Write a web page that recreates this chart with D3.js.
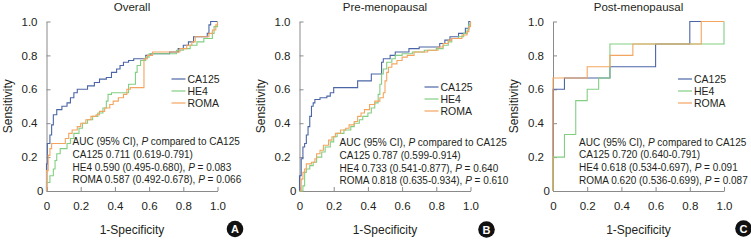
<!DOCTYPE html>
<html><head><meta charset="utf-8">
<script src="https://cdn.jsdelivr.net/npm/d3@7"></script>
<style>body{margin:0;background:#fff}svg{display:block}</style>
</head><body><svg id="c" width="751" height="240"></svg>
<script>
// ---------- data ----------
const panelTitles = ["Overall", "Pre-menopausal", "Post-menopausal"];
const panelLetters = ["A", "B", "C"];
const seriesNames = ["CA125", "HE4", "ROMA"];
const tickValues = [0, 0.2, 0.4, 0.6, 0.8, 1.0];
const tickLabels = ["0", "0.2", "0.4", "0.6", "0.8", "1.0"];

// ROC vertices [1-specificity, sensitivity]
const overallCA125 = [[0,0],[0,0.16],[0.005,0.16],[0.005,0.28],[0.02,0.28],[0.02,0.33],[0.03,0.33],[0.03,0.39],[0.04,0.39],[0.04,0.45],[0.06,0.45],[0.06,0.48],[0.09,0.48],[0.09,0.50],[0.12,0.50],[0.12,0.52],[0.14,0.52],[0.14,0.55],[0.16,0.55],[0.16,0.58],[0.18,0.58],[0.18,0.60],[0.24,0.60],[0.24,0.62],[0.28,0.62],[0.28,0.64],[0.31,0.64],[0.31,0.66],[0.35,0.66],[0.35,0.67],[0.38,0.67],[0.38,0.70],[0.41,0.70],[0.41,0.72],[0.43,0.72],[0.43,0.74],[0.45,0.74],[0.45,0.76],[0.48,0.76],[0.48,0.77],[0.51,0.77],[0.51,0.78],[0.58,0.78],[0.58,0.80],[0.61,0.80],[0.61,0.81],[0.72,0.81],[0.72,0.82],[0.77,0.82],[0.77,0.84],[0.80,0.84],[0.80,0.86],[0.83,0.86],[0.83,0.88],[0.86,0.88],[0.86,0.91],[0.94,0.91],[0.94,0.93],[0.95,0.93],[0.95,0.98],[0.96,0.98],[0.96,1.0],[1.0,1.0]];
const overallHE4 = [[0,0],[0,0.05],[0.02,0.05],[0.02,0.09],[0.04,0.09],[0.04,0.13],[0.05,0.13],[0.05,0.18],[0.06,0.18],[0.06,0.22],[0.08,0.22],[0.08,0.25],[0.12,0.25],[0.12,0.28],[0.14,0.28],[0.14,0.31],[0.16,0.31],[0.16,0.34],[0.19,0.34],[0.19,0.37],[0.21,0.37],[0.21,0.40],[0.24,0.40],[0.24,0.42],[0.27,0.42],[0.27,0.44],[0.30,0.44],[0.30,0.46],[0.33,0.46],[0.33,0.49],[0.35,0.49],[0.35,0.53],[0.36,0.53],[0.36,0.57],[0.38,0.57],[0.38,0.58],[0.48,0.58],[0.48,0.63],[0.52,0.63],[0.52,0.70],[0.53,0.70],[0.53,0.74],[0.55,0.74],[0.55,0.77],[0.58,0.77],[0.58,0.79],[0.60,0.79],[0.60,0.81],[0.76,0.81],[0.76,0.83],[0.80,0.83],[0.80,0.84],[0.84,0.84],[0.84,0.86],[0.88,0.86],[0.88,0.88],[0.92,0.88],[0.92,0.90],[0.97,0.90],[0.97,0.93],[0.98,0.93],[0.98,0.97],[1.0,0.97],[1.0,1.0]];
const overallROMA = [[0,0],[0,0.12],[0.01,0.12],[0.01,0.21],[0.02,0.21],[0.02,0.25],[0.03,0.25],[0.03,0.28],[0.11,0.28],[0.11,0.31],[0.13,0.31],[0.13,0.34],[0.15,0.34],[0.15,0.36],[0.18,0.36],[0.18,0.38],[0.20,0.38],[0.20,0.40],[0.23,0.40],[0.23,0.42],[0.26,0.42],[0.26,0.44],[0.29,0.44],[0.29,0.45],[0.31,0.45],[0.31,0.47],[0.34,0.47],[0.34,0.49],[0.37,0.49],[0.37,0.51],[0.39,0.51],[0.39,0.53],[0.42,0.53],[0.42,0.55],[0.45,0.55],[0.45,0.57],[0.47,0.57],[0.47,0.60],[0.49,0.60],[0.49,0.61],[0.57,0.61],[0.57,0.78],[0.59,0.78],[0.59,0.80],[0.62,0.80],[0.62,0.82],[0.78,0.82],[0.78,0.84],[0.82,0.84],[0.82,0.86],[0.85,0.86],[0.85,0.88],[0.87,0.88],[0.87,0.91],[0.95,0.91],[0.95,0.93],[0.97,0.93],[0.97,0.95],[0.99,0.95],[0.99,0.98],[1.0,0.98],[1.0,1.0]];

const preCA125 = [[0,0],[0,0.09],[0.01,0.09],[0.01,0.19],[0.02,0.19],[0.02,0.26],[0.03,0.26],[0.03,0.28],[0.04,0.28],[0.04,0.33],[0.05,0.33],[0.05,0.38],[0.06,0.38],[0.06,0.44],[0.07,0.44],[0.07,0.50],[0.08,0.50],[0.08,0.52],[0.09,0.52],[0.09,0.54],[0.12,0.54],[0.12,0.55],[0.16,0.55],[0.16,0.56],[0.18,0.56],[0.18,0.58],[0.20,0.58],[0.20,0.61],[0.34,0.61],[0.34,0.65],[0.42,0.65],[0.42,0.69],[0.48,0.69],[0.48,0.76],[0.49,0.76],[0.49,0.78],[0.53,0.78],[0.53,0.80],[0.56,0.80],[0.56,0.82],[0.64,0.82],[0.64,0.84],[0.70,0.84],[0.70,0.85],[0.82,0.85],[0.82,0.87],[0.85,0.87],[0.85,0.89],[0.88,0.89],[0.88,0.91],[0.93,0.91],[0.93,0.93],[0.97,0.93],[0.97,0.96],[0.99,0.96],[0.99,1.0],[1.0,1.0]];
const preHE4 = [[0,0],[0.02,0],[0.02,0.03],[0.03,0.03],[0.03,0.11],[0.04,0.11],[0.04,0.13],[0.06,0.13],[0.06,0.15],[0.08,0.15],[0.08,0.17],[0.10,0.17],[0.10,0.20],[0.13,0.20],[0.13,0.23],[0.15,0.23],[0.15,0.26],[0.18,0.26],[0.18,0.29],[0.20,0.29],[0.20,0.32],[0.22,0.32],[0.22,0.34],[0.26,0.34],[0.26,0.36],[0.30,0.36],[0.30,0.38],[0.32,0.38],[0.32,0.40],[0.35,0.40],[0.35,0.42],[0.37,0.42],[0.37,0.44],[0.40,0.44],[0.40,0.46],[0.42,0.46],[0.42,0.49],[0.44,0.49],[0.44,0.52],[0.46,0.52],[0.46,0.57],[0.47,0.57],[0.47,0.63],[0.48,0.63],[0.48,0.69],[0.49,0.69],[0.49,0.72],[0.51,0.72],[0.51,0.76],[0.54,0.76],[0.54,0.78],[0.56,0.78],[0.56,0.80],[0.60,0.80],[0.60,0.81],[0.66,0.81],[0.66,0.82],[0.73,0.82],[0.73,0.83],[0.80,0.83],[0.80,0.84],[0.84,0.84],[0.84,0.86],[0.87,0.86],[0.87,0.88],[0.89,0.88],[0.89,0.90],[0.93,0.90],[0.93,0.91],[0.96,0.91],[0.96,0.93],[0.98,0.93],[0.98,0.95],[0.99,0.95],[0.99,0.98],[1.0,0.98],[1.0,1.0]];
const preROMA = [[0,0],[0.01,0],[0.01,0.07],[0.02,0.07],[0.02,0.11],[0.03,0.11],[0.03,0.13],[0.04,0.13],[0.04,0.16],[0.07,0.16],[0.07,0.17],[0.09,0.17],[0.09,0.19],[0.10,0.19],[0.10,0.22],[0.12,0.22],[0.12,0.24],[0.14,0.24],[0.14,0.27],[0.17,0.27],[0.17,0.30],[0.19,0.30],[0.19,0.32],[0.21,0.32],[0.21,0.34],[0.24,0.34],[0.24,0.36],[0.27,0.36],[0.27,0.37],[0.29,0.37],[0.29,0.39],[0.32,0.39],[0.32,0.41],[0.34,0.41],[0.34,0.44],[0.36,0.44],[0.36,0.46],[0.38,0.46],[0.38,0.48],[0.41,0.48],[0.41,0.51],[0.44,0.51],[0.44,0.53],[0.47,0.53],[0.47,0.55],[0.49,0.55],[0.49,0.58],[0.50,0.58],[0.50,0.65],[0.51,0.65],[0.51,0.70],[0.52,0.70],[0.52,0.73],[0.54,0.73],[0.54,0.75],[0.57,0.75],[0.57,0.77],[0.60,0.77],[0.60,0.79],[0.63,0.79],[0.63,0.80],[0.67,0.80],[0.67,0.82],[0.75,0.82],[0.75,0.83],[0.81,0.83],[0.81,0.85],[0.84,0.85],[0.84,0.87],[0.87,0.87],[0.87,0.89],[0.89,0.89],[0.89,0.90],[0.95,0.90],[0.95,0.92],[0.98,0.92],[0.98,0.94],[0.99,0.94],[0.99,0.97],[1.0,0.97],[1.0,1.0]];

const postCA125 = [[0,0],[0,0.6],[0.067,0.6],[0.067,0.667],[0.333,0.667],[0.333,0.733],[0.6,0.733],[0.6,0.867],[0.8,0.867],[0.8,1.0],[1.0,1.0]];
const postHE4 = [[0,0],[0,0.2],[0.067,0.2],[0.067,0.333],[0.133,0.333],[0.133,0.533],[0.2,0.533],[0.2,0.6],[0.267,0.6],[0.267,0.667],[0.333,0.667],[0.333,0.867],[1.0,0.867],[1.0,1.0]];
const postROMA = [[0,0],[0,0.667],[0.2,0.667],[0.2,0.733],[0.333,0.733],[0.333,0.8],[0.467,0.8],[0.467,0.867],[0.867,0.867],[0.867,1.0],[1.0,1.0]];

// AUC (95% CI), P compared to CA125
const overallAUC = [["CA125","0.711","0.619-0.791",null],["HE4","0.590","0.495-0.680","0.083"],["ROMA","0.587","0.492-0.678","0.066"]];
const preAUC = [["CA125","0.787","0.599-0.914",null],["HE4","0.733","0.541-0.877","0.640"],["ROMA","0.818","0.635-0.934","0.610"]];
const postAUC = [["CA125","0.720","0.640-0.791",null],["HE4","0.618","0.534-0.697","0.091"],["ROMA","0.620","0.536-0.699","0.087"]];

// ---------- layout / style ----------
const colors = {CA125: "#4b66a6", HE4: "#82cf82", ROMA: "#f3a560"};
const narrow = "'Liberation Sans Narrow','Arial Narrow',Arial,sans-serif";
const regular = "'Liberation Sans',Arial,sans-serif";
const textColor = "#231f20";
const axisColor = "#8a8a8a";

const panels = [
  {x0: 46.5, series: [overallCA125, overallHE4, overallROMA], auc: overallAUC, legendY: 79, aucX: 26, aucY: 145, badge: [235, 229]},
  {x0: 299.5, series: [preCA125, preHE4, preROMA], auc: preAUC, legendY: 87, aucX: 40, aucY: 146, badge: [486.5, 229.5]},
  {x0: 553, series: [postCA125, postHE4, postROMA], auc: postAUC, legendY: 79, aucX: 26, aucY: 145.5, badge: [743.5, 228.5]}
];
const plotW = 171, plotTop = 21.5, plotBottom = 191;

const svg = d3.select("#c");

panels.forEach((p, i) => {
  const x = d3.scaleLinear().domain([0, 1]).range([p.x0, p.x0 + plotW]);
  const y = d3.scaleLinear().domain([0, 1]).range([plotBottom, plotTop]);
  const g = svg.append("g");

  // axes
  const ya = d3.axisLeft(y).tickValues(tickValues).tickFormat((d, k) => tickLabels[k]).tickSizeInner(-4).tickSizeOuter(0).tickPadding(9);
  const xa = d3.axisBottom(x).tickValues(tickValues).tickFormat((d, k) => tickLabels[k]).tickSizeInner(-4).tickSizeOuter(0).tickPadding(11);
  const gy = g.append("g").attr("transform", `translate(${p.x0},0)`).call(ya);
  const gx = g.append("g").attr("transform", `translate(0,${plotBottom})`).call(xa);
  [gx, gy].forEach(a => {
    a.select(".domain").attr("stroke", axisColor);
    a.selectAll(".tick line").attr("stroke", axisColor);
    a.selectAll(".tick text").attr("fill", textColor).style("font-family", narrow).style("font-size", "11.5px");
  });
  gy.selectAll(".tick text").filter(d => d === 0).attr("x", -3);

  // curves
  const line = d3.line().x(d => x(d[0])).y(d => y(d[1]));
  p.series.forEach((s, k) => {
    g.append("path").attr("d", line(s)).attr("fill", "none")
      .attr("stroke", colors[seriesNames[k]]).attr("stroke-width", 1.1);
  });

  // title
  g.append("text").attr("x", p.x0 + plotW / 2).attr("y", 11).attr("text-anchor", "middle")
    .attr("fill", textColor).style("font-family", regular).style("font-size", "11.5px").text(panelTitles[i]);

  // axis titles
  g.append("text").attr("transform", `translate(${p.x0 - 35},${(plotTop + plotBottom) / 2}) rotate(-90)`)
    .attr("text-anchor", "middle").attr("fill", textColor).style("font-family", regular).style("font-size", "12px").text("Sensitivity");
  g.append("text").attr("x", p.x0 + plotW / 2).attr("y", 233.5).attr("text-anchor", "middle")
    .attr("fill", textColor).style("font-family", regular).style("font-size", "12px").text("1-Specificity");

  // legend
  seriesNames.forEach((name, k) => {
    const ly = p.legendY + k * 12;
    g.append("line").attr("x1", p.x0 + 125).attr("x2", p.x0 + 139).attr("y1", ly).attr("y2", ly)
      .attr("stroke", colors[name]).attr("stroke-width", 1.2);
    g.append("text").attr("x", p.x0 + 141).attr("y", ly + 3.6).attr("fill", textColor)
      .style("font-family", narrow).style("font-size", "10.5px").text(name);
  });

  // AUC block
  const t = g.append("g").style("font-family", narrow).style("font-size", "10px").attr("fill", textColor);
  const tx = p.x0 + p.aucX;
  const l0 = t.append("text").attr("x", tx).attr("y", p.aucY);
  l0.append("tspan").text("AUC (95% CI), ");
  l0.append("tspan").attr("font-style", "italic").text("P");
  l0.append("tspan").text(" compared to CA125");
  p.auc.forEach((r, k) => {
    const tl = t.append("text").attr("x", tx).attr("y", p.aucY + (k + 1) * 12.8);
    tl.append("tspan").text(`${r[0]} ${r[1]} (${r[2]})` + (r[3] ? ", " : ""));
    if (r[3]) {
      tl.append("tspan").attr("font-style", "italic").text("P");
      tl.append("tspan").text(` = ${r[3]}`);
    }
  });

  // badge
  g.append("circle").attr("cx", p.badge[0]).attr("cy", p.badge[1]).attr("r", 8.3).attr("fill", "#111");
  g.append("text").attr("x", p.badge[0]).attr("y", p.badge[1] + 4).attr("text-anchor", "middle")
    .attr("fill", "#fff").style("font-family", regular).style("font-weight", "bold").style("font-size", "11px").text(panelLetters[i]);
});
</script>
</body></html>
